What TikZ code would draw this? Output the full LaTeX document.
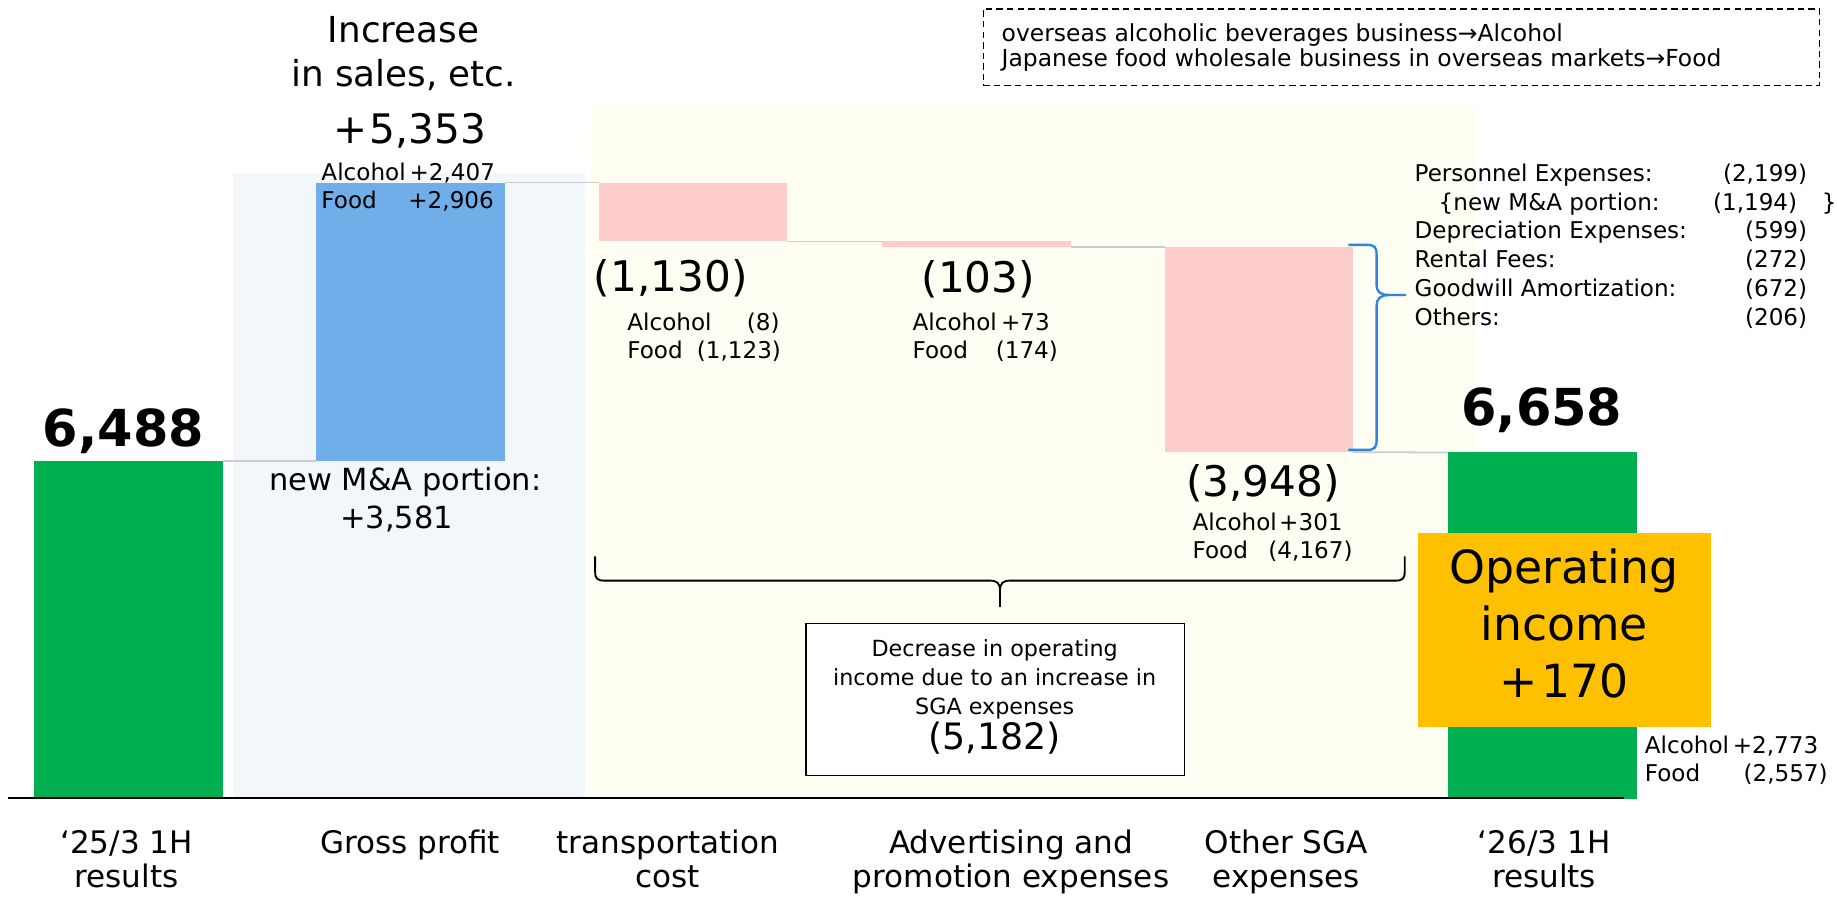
\documentclass[tikz,border=0pt]{standalone}
\usepackage{fontspec}
\setmainfont{DejaVu Sans}
\newcommand\myfs[2]{\fontsize{#1}{#2}\selectfont}
\definecolor{grn}{HTML}{00B050}
\definecolor{barblue}{RGB}{112,174,234}
\definecolor{pinkbar}{HTML}{FFCCCC}
\definecolor{orangebox}{HTML}{FFC000}
\definecolor{bgyellow}{HTML}{FEFEF2}
\definecolor{paleblue}{HTML}{F2F7FC}
\definecolor{linkgray}{HTML}{C9CCD0}
\definecolor{braceblue}{HTML}{2B85E4}
\begin{document}
\begin{tikzpicture}[x=1pt,y=-1pt,
  bar/.style={inner sep=0pt, outer sep=0pt, minimum width=161pt, draw=none},
  link/.style={draw=linkgray, line width=1.5pt},
  lbl/.style={inner sep=0pt, outer sep=0pt},
  small/.style={lbl, font=\myfs{19.7}{24.5}},
  mid/.style={lbl, font=\myfs{36}{40}},
  big/.style={lbl, font=\myfs{43.5}{48}\bfseries},
  cat/.style={lbl, font=\myfs{26.5}{29.5}},
]
% canvas
\fill[white] (0,0) rectangle (1568,765);
\useasboundingbox (0,0) rectangle (1568,765);

% scale: pixels per unit of income
\def\kk{0.044436}
\pgfmathsetmacro\hGa{6488*\kk}
\pgfmathsetmacro\hB{5353*\kk}
\pgfmathsetmacro\hPa{1130*\kk}
\pgfmathsetmacro\hPb{103*\kk}
\pgfmathsetmacro\hPc{3948*\kk}
\pgfmathsetmacro\hGb{6658*\kk}
\pgfmathsetmacro\yGa{682-\hGa}
\pgfmathsetmacro\yB{\yGa-\hB}
\pgfmathsetmacro\yPa{\yB+\hPa}
\pgfmathsetmacro\yPb{\yPa+\hPb}

% shaded backgrounds
\fill[paleblue] (199,147.5) rectangle (499,682);
\fill[bgyellow] (504,91) rectangle (1260,682);

% waterfall bars
\node[bar, fill=grn, anchor=south west, minimum height=\hGa pt] (g1) at (29,682) {};
\node[bar, fill=barblue, anchor=south west, minimum height=\hB pt] (b1) at (270,\yGa) {};
\node[bar, fill=pinkbar, anchor=north west, minimum height=\hPa pt] (p1) at (511,\yB) {};
\node[bar, fill=pinkbar, anchor=north west, minimum height=\hPb pt] (p2) at (753,\yPa) {};
\node[bar, fill=pinkbar, anchor=north west, minimum height=\hPc pt] (p3) at (994,\yPb) {};
\node[bar, fill=grn, anchor=south west, minimum height=\hGb pt] (g2) at (1236,682) {};

% step connectors
\draw[link] (g1.north east) -- (b1.south west);
\draw[link] (b1.north east) -- (p1.north west);
\draw[link] (p1.south east) -- (p2.north west);
\draw[link] (p2.south east) -- (p3.north west);
\draw[link] (p3.south east) -- (g2.north west);

% axis
\coordinate (axL) at (7,681.4);
\coordinate (axR) at (1386,681.4);
\draw[line width=2pt] (axL) -- (axR);

% brace for other SGA breakdown
\draw[braceblue, line width=2pt] (1151,209) -- (1167,209) .. controls (1173,209) and (1175,211) .. (1175,217) -- (1175,243) .. controls (1175,249) and (1178,251.8) .. (1186,251.8) -- (1200,251.8);
\draw[braceblue, line width=2pt] (1186,251.8) .. controls (1178,251.8) and (1175,255) .. (1175,261) -- (1175,376) .. controls (1175,382) and (1173,384) .. (1167,384) -- (1151,384);

% brace under SGA items
\draw[line width=1.6pt] (508,475) -- (508,488) .. controls (508,494) and (510,495.6) .. (516,495.6) -- (845,495.6) .. controls (851,495.6) and (853.6,498) .. (853.6,504) -- (853.6,518);
\draw[line width=1.6pt] (853.6,504) .. controls (853.6,498) and (856,495.6) .. (862,495.6) -- (1191,495.6) .. controls (1197,495.6) and (1199,494) .. (1199,488) -- (1199,475);

% SGA summary box
\node[draw, fill=white, line width=1.2pt, anchor=north west, minimum width=323pt, minimum height=130pt, inner sep=0pt] (dbox) at (687.4,531.5) {};
\node[lbl, anchor=base, font=\myfs{19}{24.8}] (dtext) at (849,560.5) {\begin{tabular}[t]{@{}c@{}}Decrease in operating\\income due to an increase in\\SGA expenses\end{tabular}};
\node[lbl, anchor=base, font=\myfs{31}{34}] (dval) at (849,639.5) {(5,182)};

% operating income box
\node[fill=orangebox, anchor=north west, minimum width=250pt, minimum height=165.5pt, inner sep=0pt] (obox) at (1210,455) {};
\node[lbl, anchor=base, font=\myfs{39}{49}] (otext) at (1335,497.7) {\begin{tabular}[t]{@{}c@{}}Operating\\income\\{+}\kern3pt170\end{tabular}};

% legend
\node[draw, dashed, dash pattern=on 5.5pt off 3.5pt, line width=1.1pt, anchor=north west, minimum width=713.6pt, minimum height=65.5pt, inner sep=0pt] (note) at (838.8,7.1) {};
\node[lbl, anchor=base west, font=\myfs{20}{19.9}] (notetext) at (855,35.6) {\begin{tabular}[t]{@{}l@{}}overseas alcoholic beverages business→Alcohol\\Japanese food wholesale business in overseas markets→Food\end{tabular}};

% gross profit labels
\node[lbl, anchor=base, font=\myfs{30.5}{38}] (gptitle) at (344.5,36) {\begin{tabular}[t]{@{}c@{}}Increase\\in sales, etc.\end{tabular}};
\node[lbl, anchor=base, font=\myfs{34.7}{40}] (gpval) at (349.6,122.8) {{+}\kern2pt5,353};
\node[small, anchor=base west] (gpa) at (274.4,154) {Alcohol};
\node[small, anchor=base east] (gpav) at (422.5,154) {+2,407};
\node[small, anchor=base west] (gpf) at (274.4,177.7) {Food};
\node[small, anchor=base east] (gpfv) at (421.5,177.7) {+2,906};
\node[lbl, anchor=base, font=\myfs{26}{32}] (ma) at (346,419) {new M\&A portion:};
\node[lbl, anchor=base, font=\myfs{26}{32}] (mav) at (338.5,451) {+3,581};

% start and end values
\node[big, anchor=base] (v1) at (105.5,381) {6,488};
\node[big, anchor=base] (v2) at (1316,362.8) {6,658};

% transportation cost labels
\node[mid, anchor=base west] (tc) at (507,249) {(1,130)};
\node[small, anchor=base west] (tca) at (535.5,281.7) {Alcohol};
\node[small, anchor=base east] (tcav) at (665.5,281.7) {(8)};
\node[small, anchor=base west] (tcf) at (535.5,305.7) {Food};
\node[small, anchor=base east] (tcfv) at (666.6,305.7) {(1,123)};

% advertising labels
\node[mid, anchor=base] (ad) at (835,250) {(103)};
\node[small, anchor=base west] (ada) at (779,282) {Alcohol};
\node[small, anchor=base east] (adav) at (896,282) {+73};
\node[small, anchor=base west] (adf) at (779,306) {Food};
\node[small, anchor=base east] (adfv) at (903,306) {(174)};

% other SGA labels
\node[mid, anchor=base] (os) at (1078,424) {(3,948)};
\node[small, anchor=base west] (osa) at (1018,452.4) {Alcohol};
\node[small, anchor=base east] (osav) at (1146,452.4) {+301};
\node[small, anchor=base west] (osf) at (1018,476.5) {Food};
\node[small, anchor=base east] (osfv) at (1154.5,476.5) {(4,167)};

% other SGA breakdown
\node[small, anchor=base west] (r1) at (1207.5,155) {Personnel Expenses:};
\node[small, anchor=base east] (r1v) at (1542.5,155) {(2,199)};
\node[small, anchor=base west] (r2) at (1228,179.5) {\{new M\&A portion:};
\node[small, anchor=base east] (r2v) at (1534,179.5) {(1,194)};
\node[small, anchor=base west] (r2b) at (1555,179.5) {\}};
\node[small, anchor=base west] (r3) at (1207.5,204) {Depreciation Expenses:};
\node[small, anchor=base east] (r3v) at (1542.5,204) {(599)};
\node[small, anchor=base west] (r4) at (1207.5,228.5) {Rental Fees:};
\node[small, anchor=base east] (r4v) at (1542.5,228.5) {(272)};
\node[small, anchor=base west] (r5) at (1207.5,253) {Goodwill Amortization:};
\node[small, anchor=base east] (r5v) at (1542.5,253) {(672)};
\node[small, anchor=base west] (r6) at (1207.5,277.5) {Others:};
\node[small, anchor=base east] (r6v) at (1542.5,277.5) {(206)};

% end result breakdown
\node[small, anchor=base west] (ea) at (1404,643) {Alcohol};
\node[small, anchor=base east] (eav) at (1552,643) {+2,773};
\node[small, anchor=base west] (ef) at (1404,667) {Food};
\node[small, anchor=base east] (efv) at (1560,667) {(2,557)};

% category labels
\node[cat, anchor=base] (c1) at (108,728.4) {\begin{tabular}[t]{@{}c@{}}‘25/3 1H\\results\end{tabular}};
\node[cat, anchor=base] (c2) at (350,728.4) {Gross profit};
\node[cat, anchor=base] (c3) at (570,728.4) {\begin{tabular}[t]{@{}c@{}}transportation\\cost\end{tabular}};
\node[cat, anchor=base] (c4) at (863,728.4) {\begin{tabular}[t]{@{}c@{}}Advertising and\\promotion expenses\end{tabular}};
\node[cat, anchor=base] (c5) at (1098,728.4) {\begin{tabular}[t]{@{}c@{}}Other SGA\\expenses\end{tabular}};
\node[cat, anchor=base] (c6) at (1318,728.4) {\begin{tabular}[t]{@{}c@{}}‘26/3 1H\\results\end{tabular}};
\end{tikzpicture}
\end{document}
